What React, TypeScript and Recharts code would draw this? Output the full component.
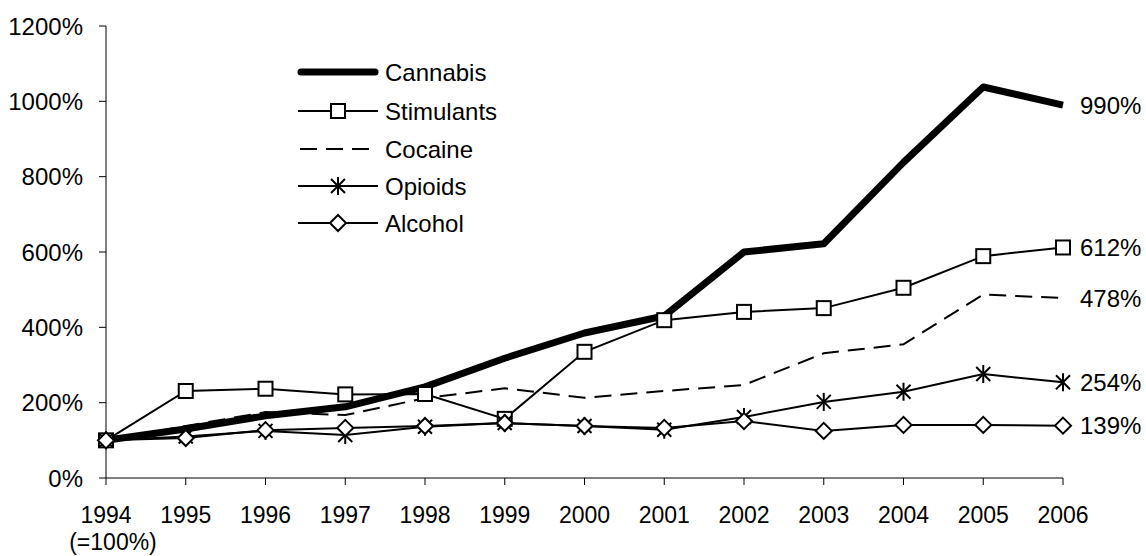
import React from 'react';
import { LineChart, Line, XAxis, YAxis, Legend } from 'recharts';

const years = ['1994', '1995', '1996', '1997', '1998', '1999', '2000', '2001', '2002', '2003', '2004', '2005', '2006'];
const cannabis = [100, 130, 165, 189, 242, 318, 385, 430, 600, 622, 838, 1038, 990];
const stimulants = [100, 231, 237, 222, 223, 157, 335, 419, 441, 451, 505, 589, 612];
const cocaine = [100, 138, 175, 167, 212, 238, 213, 231, 247, 331, 355, 487, 478];
const opioids = [100, 110, 125, 114, 136, 146, 138, 128, 162, 202, 229, 276, 254];
const alcohol = [100, 106, 127, 133, 138, 146, 138, 133, 151, 125, 141, 141, 139];
const yTicks = [0, 200, 400, 600, 800, 1000, 1200];
const seriesNames = ['Cannabis', 'Stimulants', 'Cocaine', 'Opioids', 'Alcohol'];

const data = years.map((y, i) => ({
  year: y,
  Cannabis: cannabis[i],
  Stimulants: stimulants[i],
  Cocaine: cocaine[i],
  Opioids: opioids[i],
  Alcohol: alcohol[i],
}));

const FONT = '"Liberation Sans", Arial, Helvetica, sans-serif';
const FS = 24;
const XFS = 23;

const Square = ({ cx, cy }: any) => (
  <rect x={cx - 7} y={cy - 7} width={14} height={14} fill="#fff" stroke="#000" strokeWidth={2} />
);
const Diamond = ({ cx, cy }: any) => (
  <polygon points={`${cx},${cy - 8} ${cx + 8},${cy} ${cx},${cy + 8} ${cx - 8},${cy}`} fill="#fff" stroke="#000" strokeWidth={2} />
);
const Star = ({ cx, cy }: any) => (
  <g stroke="#000" strokeWidth={2}>
    <line x1={cx - 7} y1={cy - 7} x2={cx + 7} y2={cy + 7} />
    <line x1={cx - 7} y1={cy + 7} x2={cx + 7} y2={cy - 7} />
    <line x1={cx} y1={cy - 9} x2={cx} y2={cy + 9} />
  </g>
);

const makeDot = (Shape: any) => (props: any) => {
  const { cx, cy, index } = props;
  if (cx == null || cy == null) return <g key={`d-${index}`} />;
  return (
    <g key={`d-${index}`}>
      <Shape cx={cx} cy={cy} />
    </g>
  );
};

const endLabel = (props: any) => {
  const { x, y, value, index } = props;
  if (index !== years.length - 1) return null;
  return (
    <text x={x + 17} y={y} dy="0.36em" fontSize={FS} fontFamily={FONT} fill="#000">
      {`${value}%`}
    </text>
  );
};

const XTick = (props: any) => {
  const { x, y, payload } = props;
  return (
    <g>
      <text x={x} y={y} dy="0.71em" textAnchor="middle" fontSize={XFS} fontFamily={FONT} fill="#000">
        {payload.value}
      </text>
      {payload.value === '1994' ? (
        <text x={x + 7} y={y + 27} dy="0.71em" textAnchor="middle" fontSize={XFS} fontFamily={FONT} fill="#000">
          (=100%)
        </text>
      ) : null}
    </g>
  );
};

const LegendContent = () => {
  const rows = [22, 61, 99, 136, 173];
  const x1 = 8;
  const x2 = 88;
  const mx = 48;
  return (
    <svg width={240} height={195} style={{ display: 'block' }}>
      {seriesNames.map((name, i) => {
        const ry = rows[i];
        let line: any;
        if (name === 'Cannabis') {
          line = <line x1={x1 + 3} y1={ry} x2={x2 - 3} y2={ry} stroke="#000" strokeWidth={7} strokeLinecap="round" />;
        } else if (name === 'Cocaine') {
          line = <line x1={x1 + 2} y1={ry} x2={x2 - 6} y2={ry} stroke="#000" strokeWidth={2} strokeDasharray="17 9" />;
        } else {
          line = <line x1={x1} y1={ry} x2={x2} y2={ry} stroke="#000" strokeWidth={2} />;
        }
        return (
          <g key={name}>
            {line}
            {name === 'Stimulants' ? <Square cx={mx} cy={ry} /> : null}
            {name === 'Opioids' ? <Star cx={mx} cy={ry} /> : null}
            {name === 'Alcohol' ? <Diamond cx={mx} cy={ry} /> : null}
            <text x={95} y={ry} dy="0.36em" fontSize={FS} fontFamily={FONT} fill="#000">
              {name}
            </text>
          </g>
        );
      })}
    </svg>
  );
};

export default function App() {
  return (
    <div style={{ position: 'absolute', left: 0, top: 0, width: 1146, height: 556, background: '#fff' }}>
      <LineChart width={1146} height={556} data={data} margin={{ top: 26, right: 83, bottom: 0, left: 0 }}>
        <XAxis
          dataKey="year"
          height={78}
          tickSize={7}
          tickMargin={22}
          tickLine={{ stroke: '#000' }}
          axisLine={{ stroke: '#000' }}
          tick={<XTick />}
          interval={0}
        />
        <YAxis
          width={106}
          domain={[0, 1200]}
          ticks={yTicks}
          tickSize={7}
          tickMargin={16}
          tickFormatter={(v: number) => `${v}%`}
          tick={{ fontSize: FS, fontFamily: FONT, fill: '#000' }}
          tickLine={{ stroke: '#000' }}
          axisLine={{ stroke: '#000' }}
          interval={0}
        />
        <Legend
          layout="horizontal"
          verticalAlign="middle"
          align="center"
          content={<LegendContent />}
          wrapperStyle={{ left: 290, top: 50, width: 240, height: 195 }}
        />
        <Line dataKey="Cannabis" stroke="#000" strokeWidth={7} dot={false} isAnimationActive={false} label={endLabel} strokeLinejoin="round" />
        <Line dataKey="Stimulants" stroke="#000" strokeWidth={2} dot={makeDot(Square)} isAnimationActive={false} label={endLabel} />
        <Line dataKey="Cocaine" stroke="#000" strokeWidth={2} strokeDasharray="17 9" dot={false} isAnimationActive={false} label={endLabel} />
        <Line dataKey="Opioids" stroke="#000" strokeWidth={2} dot={makeDot(Star)} isAnimationActive={false} label={endLabel} />
        <Line dataKey="Alcohol" stroke="#000" strokeWidth={2} dot={makeDot(Diamond)} isAnimationActive={false} label={endLabel} />
      </LineChart>
    </div>
  );
}
